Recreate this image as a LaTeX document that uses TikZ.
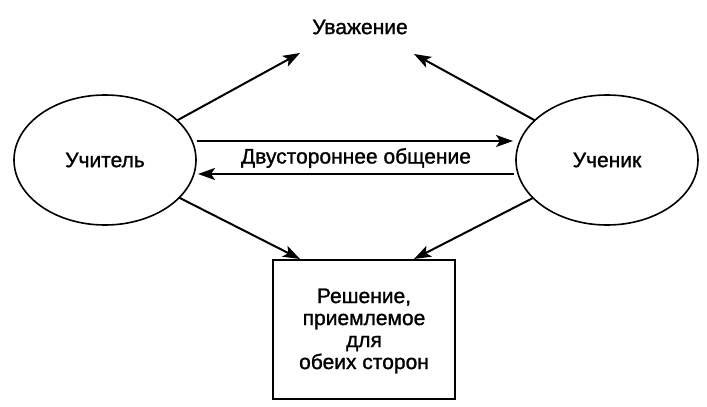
\documentclass[tikz,border=0pt]{standalone}
\usepackage{fontspec}
\setmainfont{Liberation Sans}[FakeBold=1.2]
\usetikzlibrary{arrows.meta,shapes.geometric}
\tikzset{
  oval/.style={draw, line width=1.6pt, ellipse, minimum width=182pt, minimum height=130pt, inner sep=0pt},
  arr/.style={-{Stealth[length=17pt,width=12pt,inset=4pt]}, line width=2pt, shorten <=-1pt},
  txt/.style={font=\fontsize{21}{22}\selectfont, inner sep=0pt},
}
\begin{document}
\begin{tikzpicture}[x=1pt,y=-1pt]
\useasboundingbox (0,0) rectangle (707,407);
\node[oval] (L) at (105,160) {};
\node[oval] (R) at (607,160) {};
\node[txt] (Lt) at (L) {Учитель};
\node[txt] (Rt) at (R) {Ученик};
\node[txt] (resp) at (360,27) {Уважение};
\node[draw, line width=1.6pt, minimum width=182pt, minimum height=139pt, inner sep=0pt, anchor=north] (box) at (364,259) {};
\node[txt, align=center] (boxt) at (364,331) {Решение,\\приемлемое\\для\\обеих сторон};
\node[txt] (two) at (356,158) {Двустороннее общение};
\coordinate (t1) at (300,53);
\coordinate (t2) at (414,54);
\coordinate (b1) at (300,259);
\coordinate (b2) at (414,259);
\coordinate (h1) at (198,141);
\coordinate (h2) at (513,141);
\coordinate (h3) at (513,174);
\coordinate (h4) at (198,174);
\draw[arr] (L) -- (t1);
\draw[arr] (R) -- (t2);
\draw[arr] (L) -- (b1);
\draw[arr] (R) -- (b2);
\draw[arr] (h1) -- (h2);
\draw[arr] (h3) -- (h4);
\end{tikzpicture}
\end{document}
